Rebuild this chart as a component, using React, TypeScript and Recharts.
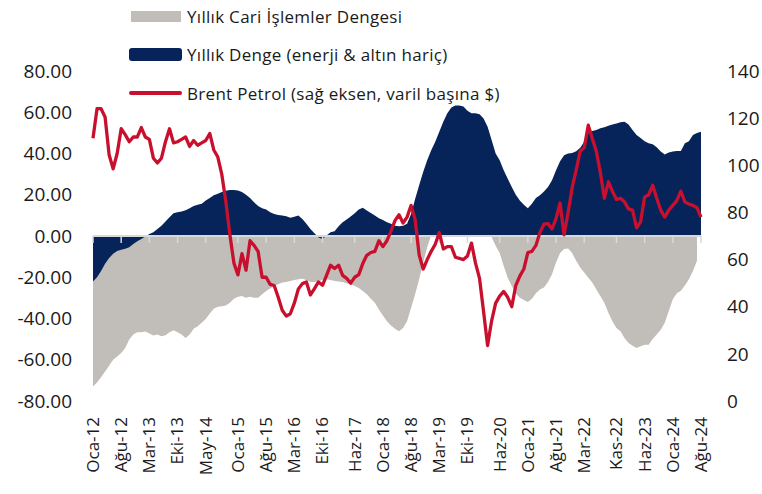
import React from "react";
import {
  ComposedChart,
  Area,
  Line,
  XAxis,
  YAxis,
  ReferenceLine,
} from "recharts";

const monthNames = ["Oca", "Şub", "Mar", "Nis", "May", "Haz", "Tem", "Ağu", "Eyl", "Eki", "Kas", "Ara"];

// Ocak 2012 - Ağustos 2024, aylık
const months: string[] = [];
for (let y = 12; y <= 24; y++) {
  for (let m = 0; m < 12; m++) {
    if (y === 24 && m > 7) break;
    months.push(`${monthNames[m]}-${y}`);
  }
}

const tickLabels = [
  "Oca-12", "Ağu-12", "Mar-13", "Eki-13", "May-14", "Oca-15", "Ağu-15", "Mar-16",
  "Eki-16", "Haz-17", "Oca-18", "Ağu-18", "Mar-19", "Eki-19", "Haz-20", "Oca-21",
  "Ağu-21", "Mar-22", "Kas-22", "Haz-23", "Oca-24", "Ağu-24",
];

const leftTicks = [-80, -60, -40, -20, 0, 20, 40, 60, 80];
const rightTicks = [0, 20, 40, 60, 80, 100, 120, 140];

// Yıllık Cari İşlemler Dengesi (mlr $)
const cariDenge: (number | null)[] = [
  -73, -71, -68.5, -65.7, -62.9, -60, -58.4, -56.7, -54.3, -50.2, -47.8, -46.7,
  -46.7, -46.3, -47.3, -48.3, -47.8, -48.6, -48.1, -46.7, -45.7, -46.7, -47.8, -49.4,
  -47.8, -45, -43.7, -42.1, -40.2, -37.6, -35.3, -34.3, -34, -33.7, -32.4, -30.4,
  -29.4, -29.1, -29.9, -29.4, -29.9, -29.9, -28.3, -26.7, -25.5, -24.2, -23.4, -22.6,
  -22.3, -21.8, -21.3, -21, -20.7, -21.3, -22.3, -22.3, -21.8, -21.3, -21, -21.3,
  -21.8, -22.1, -22.3, -22.9, -23.4, -24.2, -25.2, -26.7, -28.3, -30.4, -32.4, -35.6,
  -38.5, -41.3, -43.4, -45, -46.2, -44.6, -41.3, -34.8, -28.3, -21, -12.8, -5.5,
  0.5, 1.5, 2.5, 3.5, 4.5, 5.5, 6.5, 7.5, 8, 8.5, 7.5, 5.5,
  3.5, 2, 0.5, -0.5, -4.7, -8.3, -14.5, -20.2, -24.2, -27.8, -29.9, -31,
  -32, -30.4, -27.8, -25.9, -25, -22.3, -18.5, -12.8, -8.3, -6.3, -6, -8.3,
  -12, -15.3, -17.7, -20.2, -22.6, -25.9, -29.1, -32.4, -37.2, -41.3, -44.6, -46.2,
  -49.4, -51.9, -53.2, -54.3, -53.5, -52.7, -52.7, -49.9, -47.8, -45.4, -42.1, -36.4,
  -30.7, -27.8, -26.5, -24, -21, -17, -12, null,
];

// Yıllık Denge (enerji & altın hariç)
const enerjiAltinHaric = [
  -22, -20, -17, -13.5, -10.7, -8.6, -7.3, -6.7, -6.2, -5.4, -3.9, -2.6,
  -1.5, -0.3, 1, 1.8, 3.4, 5, 7, 9.1, 11, 11.5, 11.9, 12.5,
  13.5, 14.5, 15.1, 15.6, 17.2, 18.4, 19.7, 20.5, 21.3, 22, 22.3, 22.3,
  22.1, 21.3, 20, 18.4, 16.4, 14.5, 13.5, 12.8, 11.5, 10.7, 10.2, 9.9,
  9.6, 8.9, 9.3, 9.9, 8.3, 5.9, 3.4, 1.3, -0.7, -1.5, 0.2, 1.8,
  2.3, 4.7, 6.7, 8, 9.4, 11, 12.8, 13.7, 12.4, 11.2, 9.9, 8.6,
  7.8, 6.7, 6, 5, 4.7, 5, 5.9, 10.7, 18, 24.6, 31, 36.7,
  41.6, 45.7, 50.6, 55.4, 59.5, 62.3, 63.3, 63.3, 62.8, 60.7, 59.5, 59.5,
  59, 57, 53, 46.5, 40, 36.7, 31.9, 27.8, 23.7, 20, 17.2, 15.1,
  13.5, 15.6, 18.4, 19.7, 21.6, 23.7, 27, 31.9, 36.3, 39.2, 40, 40.3,
  41.1, 42.8, 45.7, 49.8, 50.9, 51.4, 52.2, 52.7, 53.5, 54.1, 54.6, 55.1,
  55.4, 54.1, 51.4, 49, 47.5, 46, 45, 44.5, 43, 41, 39.5, 40.5,
  41, 41.2, 41.2, 45, 46, 49, 50, 50.5,
];

// Brent Petrol ($/varil, sağ eksen)
const brent = [
  111.5, 124, 124, 120.5, 104.5, 98.5, 105, 115.5, 113, 110, 112, 112,
  116, 112, 111, 103, 101, 103, 110, 115.5, 109.5, 110, 111, 112,
  108, 110.5, 108.5, 109.5, 110.5, 113.5, 106.5, 103.5, 96, 84.5, 70.5, 58.5,
  53.5, 62.5, 55.5, 68, 66, 63.5, 52.5, 52.5, 49.5, 49, 44, 38.5,
  36, 37, 41.5, 47.5, 49.8, 50.5, 45, 47.7, 50.5, 49.1, 53.3, 57.6,
  56.2, 57.6, 53.3, 52, 50, 52.5, 53.6, 58.3, 61.8, 63, 63.5, 68,
  65.5, 68, 72, 76.5, 79, 75.5, 78, 83, 77, 62, 56, 60,
  63.5, 66.5, 71.5, 64.5, 65.5, 65.5, 61, 60.5, 60, 61.5, 67, 58.5,
  52, 38, 23.5, 34, 41.5, 44.5, 46.5, 44, 40, 49, 53, 56,
  63, 63.5, 66, 71.5, 75, 75.3, 73, 77.4, 84, 70.5, 80, 90.5,
  98, 106, 107.5, 117, 111.5, 106, 97, 86, 93, 89, 85.5, 86,
  84.5, 81.5, 81, 73.5, 76, 86.5, 87.5, 91.5, 86, 81, 78, 81,
  83, 85, 89, 84.5, 83.5, 83, 82, 78,
];

const data = months.map((label, i) => ({
  label,
  cari: cariDenge[i],
  haric: enerjiAltinHaric[i],
  brent: brent[i],
}));

const GRAY = "#c1bdb8";
const NAVY = "#06245a";
const RED = "#c8102e";
const TEXT = "#1a1a1a";
const FONT = "'Open Sans', sans-serif";

function MonthTick({ x, y, payload }: any) {
  return (
    <text
      x={x}
      y={y}
      transform={`rotate(-90, ${x}, ${y})`}
      textAnchor="end"
      dy="0.35em"
      fontSize={17}
      fontFamily={FONT}
      fill={TEXT}
    >
      {payload.value}
    </text>
  );
}

const legendItems = [
  { name: "Yıllık Cari İşlemler Dengesi", kind: "gray", top: 16 },
  { name: "Yıllık Denge (enerji & altın hariç)", kind: "navy", top: 54.5 },
  { name: "Brent Petrol (sağ eksen, varil başına $)", kind: "line", top: 93 },
];

function Swatch({ kind }: { kind: string }) {
  if (kind === "gray") {
    return <div style={{ width: 50, height: 11, background: GRAY, marginLeft: 2, marginRight: 6 }} />;
  }
  if (kind === "navy") {
    return <div style={{ width: 53, height: 13, background: NAVY, borderRadius: 3, marginRight: 5 }} />;
  }
  return <div style={{ width: 53, height: 3.5, background: RED, borderRadius: 2, marginRight: 5 }} />;
}

export default function App() {
  return (
    <div
      style={{
        position: "absolute",
        left: 0,
        top: 0,
        width: 762,
        height: 494,
        background: "#fff",
        fontFamily: FONT,
      }}
    >
      {legendItems.map((item) => (
        <div
          key={item.name}
          style={{
            position: "absolute",
            left: 129,
            top: item.top - 12,
            height: 24,
            display: "flex",
            alignItems: "center",
            fontSize: 17,
            letterSpacing: 0.3,
            color: TEXT,
            whiteSpace: "nowrap",
          }}
        >
          <Swatch kind={item.kind} />
          <span>{item.name}</span>
        </div>
      ))}

      <ComposedChart
        width={762}
        height={494}
        data={data}
        margin={{ top: 71, right: 0, bottom: 13, left: 0 }}
      >
        <XAxis
          dataKey="label"
          ticks={tickLabels}
          interval={0}
          axisLine={false}
          tickLine={false}
          tickMargin={10}
          height={80}
          tick={<MonthTick />}
        />
        <YAxis
          yAxisId="left"
          domain={[-80, 80]}
          ticks={leftTicks}
          tickFormatter={(v: number) => v.toFixed(2)}
          axisLine={false}
          tickLine={false}
          tickMargin={15}
          width={93}
          tick={{ fontSize: 19, fontFamily: FONT, fill: TEXT }}
        />
        <YAxis
          yAxisId="right"
          orientation="right"
          domain={[0, 140]}
          ticks={rightTicks}
          axisLine={false}
          tickLine={false}
          tickMargin={20}
          width={61}
          tick={{ fontSize: 19, fontFamily: FONT, fill: TEXT, textAnchor: "start" }}
        />

        <Area
          yAxisId="left"
          type="linear"
          dataKey="cari"
          baseValue={0}
          stroke="none"
          fill={GRAY}
          fillOpacity={1}
          isAnimationActive={false}
        />
        <Area
          yAxisId="left"
          type="linear"
          dataKey="haric"
          baseValue={0}
          stroke="none"
          fill={NAVY}
          fillOpacity={1}
          isAnimationActive={false}
        />

        <ReferenceLine yAxisId="left" y={0} stroke="#d9d9d9" strokeWidth={2} />
        {tickLabels.map((t) => (
          <ReferenceLine
            key={t}
            yAxisId="left"
            segment={[
              { x: t, y: 0 },
              { x: t, y: -3.4 },
            ]}
            stroke="#d9d9d9"
            strokeWidth={1.5}
          />
        ))}

        <Line
          yAxisId="right"
          type="linear"
          dataKey="brent"
          stroke={RED}
          strokeWidth={3.3}
          strokeLinejoin="round"
          dot={false}
          activeDot={false}
          isAnimationActive={false}
        />
      </ComposedChart>
    </div>
  );
}
